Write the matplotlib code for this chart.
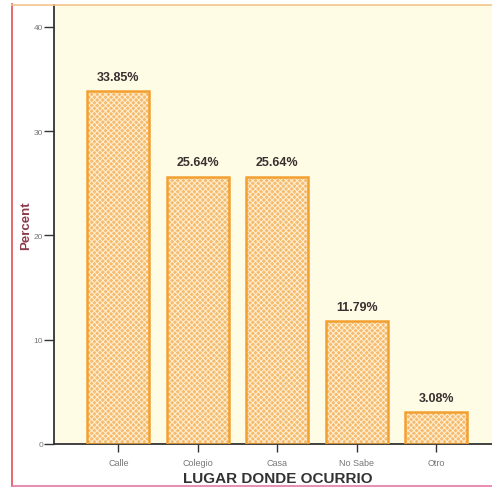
import matplotlib
matplotlib.use("Agg")
import matplotlib.pyplot as plt
from matplotlib.lines import Line2D

categories = ["Calle", "Colegio", "Casa", "No Sabe", "Otro"]
percent = [33.85, 25.64, 25.64, 11.79, 3.08]
y_ticks = [0, 10, 20, 30, 40]

plt.rcParams["font.family"] = ["Liberation Sans", "DejaVu Sans"]
plt.rcParams["hatch.linewidth"] = 0.7

fig = plt.figure(figsize=(4.92, 4.89), dpi=100)
ax = fig.add_axes([0.1098, 0.09, 0.908, 0.8978])
ax.set_facecolor("#FFFCE6")

x = range(len(categories))
# checkered fill
ax.bar(x, percent, width=0.78, color="#F6BB6E", edgecolor="#FFF0D4",
       hatch="xxxxxx", linewidth=0, zorder=2)
# orange outline
ax.bar(x, percent, width=0.78, fill=False, edgecolor="#F2A030",
       linewidth=1.8, zorder=3)

for xi, v in zip(x, percent):
    ax.text(xi, v + 0.8, f"{v:.2f}%", ha="center", va="bottom",
            fontsize=9, fontweight="bold", color="#3A3030", zorder=4)

ax.set_xlim(-0.81, 4.81)
ax.set_ylim(0, 42.1)
ax.set_yticks(y_ticks)
ax.set_yticklabels([str(t) for t in y_ticks])
ax.set_xticks(list(x))
ax.set_xticklabels(categories)
ax.tick_params(axis="y", labelsize=6, length=7, width=1, pad=1,
               color="#333333")
ax.tick_params(axis="x", labelsize=6.5, length=6, width=1, pad=4,
               color="#333333")
for lbl in ax.get_yticklabels() + ax.get_xticklabels():
    lbl.set_color("#777777")

for side in ("top", "right"):
    ax.spines[side].set_visible(False)
for side in ("left", "bottom"):
    ax.spines[side].set_color("#333333")
    ax.spines[side].set_linewidth(1.3)

ax.set_xlabel("LUGAR DONDE OCURRIO", fontsize=11, fontweight="bold",
              color="#333333", labelpad=3)
ax.set_ylabel("Percent", fontsize=9.5, fontweight="bold", color="#8B3A4A",
              labelpad=1)

# page frame
W, H = 492, 489
fig.add_artist(Line2D([12 / W, 12 / W], [1 - 5 / H, 1 - 487 / H],
                      transform=fig.transFigure, color="#E05050", lw=1.2))
fig.add_artist(Line2D([12 / W, 1], [1 - 487 / H, 1 - 487 / H],
                      transform=fig.transFigure, color="#E878A8", lw=1.2))
fig.add_artist(Line2D([12 / W, 1], [1 - 6 / H, 1 - 6 / H],
                      transform=fig.transFigure, color="#F5C48A", lw=1.2))

fig.savefig("out.png", dpi=100)
